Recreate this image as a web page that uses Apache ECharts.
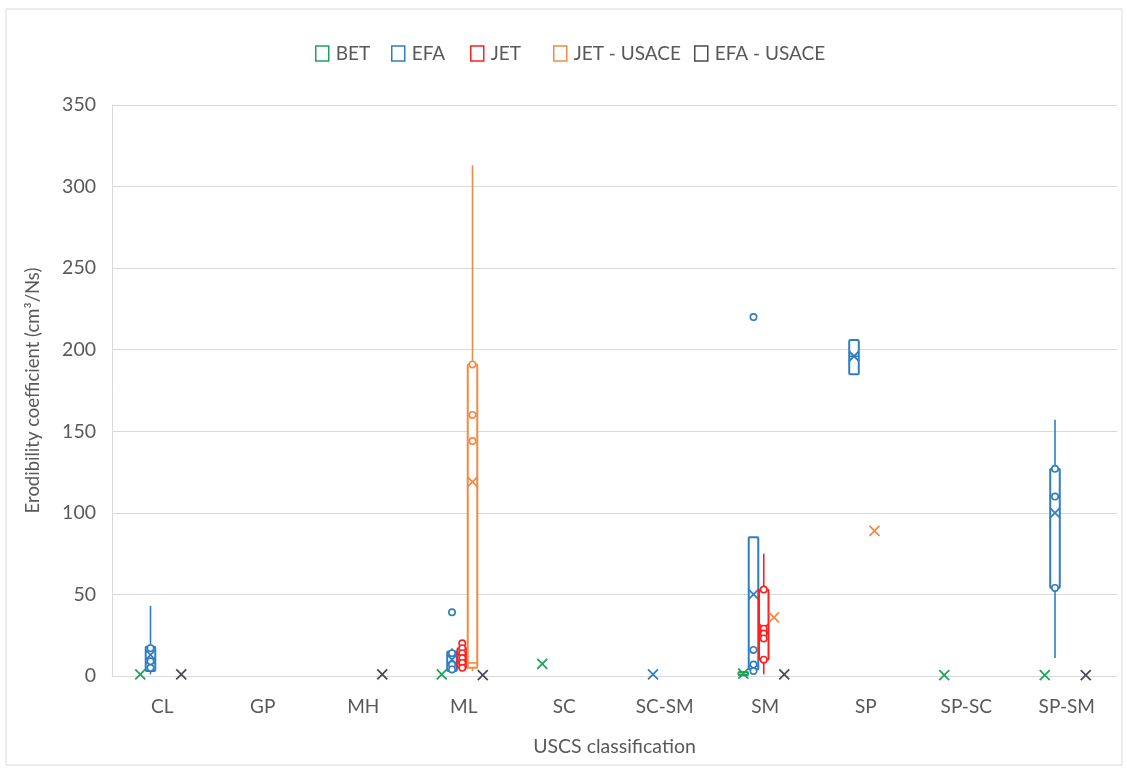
<!DOCTYPE html>
<html>
<head>
<meta charset="utf-8">
<script src="https://cdn.jsdelivr.net/npm/echarts@6/dist/echarts.min.js"></script>
<style>
  html, body { margin: 0; padding: 0; background: #fff; }
  #chart { width: 1127px; height: 771px; }
</style>
</head>
<body>
<div id="chart"></div>
<script>
// USCS soil classes along the x axis
const categories = ['CL', 'GP', 'MH', 'ML', 'SC', 'SC-SM', 'SM', 'SP', 'SP-SC', 'SP-SM'];
const seriesNames = ['BET', 'EFA', 'JET', 'JET - USACE', 'EFA - USACE'];
const seriesColors = ['#1fa35b', '#2f7ec1', '#ff1f1f', '#f08a45', '#4b4857'];
const yTicks = [0, 50, 100, 150, 200, 250, 300, 350];

// Box statistics per class: [class, min, Q1, median, Q3, max, mean]
const betBoxes = [
  ['CL', 1, 1, 1, 1, 1, 1],
  ['ML', 1, 1, 1, 1, 1, 1],
  ['SC', 7.5, 7.5, 7.5, 7.5, 7.5, 7.5],
  ['SM', 0, 0.5, 1, 2.5, 3, 1.5],
  ['SP-SC', 0.5, 0.5, 0.5, 0.5, 0.5, 0.5],
  ['SP-SM', 0.5, 0.5, 0.5, 0.5, 0.5, 0.5]
];
const efaBoxes = [
  ['CL', 1, 3, 8, 18, 43, 13],
  ['ML', 2, 3, 8, 15, 17, 10],
  ['SC-SM', 1, 1, 1, 1, 1, 1],
  ['SM', 2, 4, 6, 85, 85, 50],
  ['SP', 185, 185, 196, 206, 206, 196],
  ['SP-SM', 11, 54, 110, 127, 157, 100]
];
const jetBoxes = [
  ['ML', 3, 5, 9, 17, 21, 11],
  ['SM', 1, 10, 26, 53, 75, 29]
];
const jetUsaceBoxes = [
  ['ML', 3, 5, 8, 191, 313, 119],
  ['SM', 36, 36, 36, 36, 36, 36],
  ['SP', 89, 89, 89, 89, 89, 89]
];
const efaUsaceBoxes = [
  ['CL', 1, 1, 1, 1, 1, 1],
  ['MH', 1, 1, 1, 1, 1, 1],
  ['ML', 0.5, 0.5, 0.5, 0.5, 0.5, 0.5],
  ['SM', 1, 1, 1, 1, 1, 1],
  ['SP-SM', 0.5, 0.5, 0.5, 0.5, 0.5, 0.5]
];

// Individual observations and outliers: [class, value]
const betPoints = [];
const efaPoints = [
  ['CL', 17], ['CL', 9], ['CL', 5],
  ['ML', 39], ['ML', 14], ['ML', 7], ['ML', 4],
  ['SM', 220], ['SM', 16], ['SM', 7], ['SM', 3],
  ['SP-SM', 127], ['SP-SM', 110], ['SP-SM', 54]
];
const jetPoints = [
  ['ML', 20], ['ML', 17], ['ML', 14], ['ML', 11], ['ML', 8], ['ML', 5],
  ['SM', 53], ['SM', 29], ['SM', 26], ['SM', 23], ['SM', 10]
];
const jetUsacePoints = [
  ['ML', 191], ['ML', 160], ['ML', 144]
];
const efaUsacePoints = [];

const boxSets = [betBoxes, efaBoxes, jetBoxes, jetUsaceBoxes, efaUsaceBoxes];
const pointSets = [betPoints, efaPoints, jetPoints, jetUsacePoints, efaUsacePoints];

const FONT = 'Lato';
const TEXT_GRAY = '#595959';
const GRID_GRAY = '#d9d9d9';

// left edge of each legend entry
const legendLefts = [315, 391, 470, 553, 694];

// horizontal placement of each group inside its class band
function slotX(api, si, catIdx) {
  const band = api.size([1, 0])[0];
  const cx = api.coord([catIdx, 0])[0];
  return { x: cx - 1.5 + (si - 2) * band * 0.102, w: band * 0.095 };
}

function boxRenderer(si) {
  const color = seriesColors[si];
  return function (params, api) {
    const cat = api.value(0);
    const { x, w } = slotX(api, si, cat);
    const y = (d) => api.coord([cat, api.value(d)])[1];
    const mn = y(1), q1 = y(2), md = y(3), q3 = y(4), mx = y(5), mean = y(6);
    const line = { stroke: color, lineWidth: 1.6 };
    const children = [];
    if (q3 - mx > 0.5) children.push({ type: 'line', shape: { x1: x, y1: mx, x2: x, y2: q3 }, style: line });
    if (mn - q1 > 0.5) children.push({ type: 'line', shape: { x1: x, y1: q1, x2: x, y2: mn }, style: line });
    if (q1 - q3 > 0.5) {
      children.push({
        type: 'rect',
        shape: { x: x - w / 2, y: q3, width: w, height: q1 - q3, r: 1 },
        style: { fill: '#ffffff', stroke: color, lineWidth: 2 }
      });
      children.push({ type: 'line', shape: { x1: x - w / 2, y1: md, x2: x + w / 2, y2: md }, style: line });
    }
    const s = 5;
    children.push({ type: 'line', shape: { x1: x - s, y1: mean - s, x2: x + s, y2: mean + s }, style: { stroke: color, lineWidth: 1.8 } });
    children.push({ type: 'line', shape: { x1: x - s, y1: mean + s, x2: x + s, y2: mean - s }, style: { stroke: color, lineWidth: 1.8 } });
    return { type: 'group', children };
  };
}

function pointRenderer(si) {
  const color = seriesColors[si];
  return function (params, api) {
    const cat = api.value(0);
    const { x } = slotX(api, si, cat);
    const py = api.coord([cat, api.value(1)])[1];
    return {
      type: 'circle',
      shape: { cx: x, cy: py, r: 3.2 },
      style: { fill: '#ffffff', stroke: color, lineWidth: 1.6 }
    };
  };
}

const series = [];
seriesNames.forEach((name, si) => {
  series.push({
    name,
    type: 'custom',
    renderItem: boxRenderer(si),
    encode: { x: 0, y: [1, 2, 3, 4, 5, 6] },
    itemStyle: { color: seriesColors[si] },
    data: boxSets[si].map(r => [categories.indexOf(r[0])].concat(r.slice(1))),
    z: 2
  });
});
seriesNames.forEach((name, si) => {
  series.push({
    name,
    type: 'custom',
    renderItem: pointRenderer(si),
    encode: { x: 0, y: 1 },
    itemStyle: { color: seriesColors[si] },
    data: pointSets[si].map(r => [categories.indexOf(r[0]), r[1]]),
    z: 3
  });
});

// one legend block per series so each entry sits at its own spot
const legends = seriesNames.map((n, i) => ({
  top: 44,
  left: legendLefts[i],
  padding: 0,
  itemWidth: 13,
  itemHeight: 15,
  textStyle: { fontFamily: FONT, fontSize: 19, color: TEXT_GRAY, padding: [0, 0, 0, 2] },
  data: [{
    name: n,
    icon: 'rect',
    itemStyle: { color: '#ffffff', borderColor: seriesColors[i], borderWidth: 1.5 }
  }]
}));

const chart = echarts.init(document.getElementById('chart'), null, { renderer: 'canvas' });
chart.setOption({
  animation: false,
  textStyle: { fontFamily: FONT },
  graphic: [{
    type: 'rect',
    shape: { x: 6, y: 9, width: 1116, height: 756 },
    style: { fill: 'none', stroke: GRID_GRAY, lineWidth: 1 },
    silent: true
  }],
  legend: legends,
  grid: { left: 112, right: 10, top: 105, bottom: 95 },
  xAxis: {
    type: 'category',
    data: categories,
    boundaryGap: true,
    name: 'USCS classification',
    nameLocation: 'middle',
    nameGap: 61,
    nameTextStyle: { fontFamily: FONT, fontSize: 19.5, color: TEXT_GRAY },
    axisLine: { lineStyle: { color: GRID_GRAY } },
    axisTick: { show: false },
    axisLabel: { fontFamily: FONT, fontSize: 19, color: TEXT_GRAY, margin: 21 }
  },
  yAxis: {
    type: 'value',
    min: yTicks[0],
    max: yTicks[yTicks.length - 1],
    interval: 50,
    name: 'Erodibility coefficient (cm³/Ns)',
    nameLocation: 'middle',
    nameGap: 69,
    nameTextStyle: { fontFamily: FONT, fontSize: 18.5, color: TEXT_GRAY },
    axisLine: { show: true, lineStyle: { color: GRID_GRAY } },
    axisTick: { show: false },
    axisLabel: { fontFamily: FONT, fontSize: 19.5, color: TEXT_GRAY, margin: 16 },
    splitLine: { lineStyle: { color: GRID_GRAY, width: 1 } }
  },
  series
});
</script>
</body>
</html>
